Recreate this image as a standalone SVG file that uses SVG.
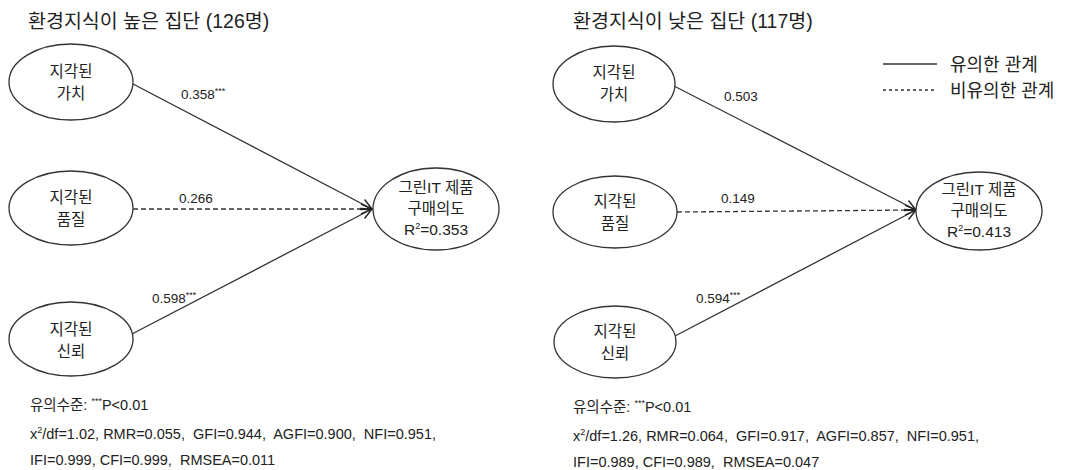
<svg xmlns="http://www.w3.org/2000/svg" width="1067" height="470" viewBox="0 0 1067 470">
<style>
.t{font-family:"Liberation Sans","Noto Sans CJK KR",sans-serif;fill:#222}
.title{font-size:19.5px}
.n{font-size:15.5px;text-anchor:middle}
.l{font-size:13.5px}
.f{font-size:14.5px;white-space:pre}
.g{font-size:18px}
.e{fill:#fff;stroke:#333;stroke-width:1.3}
.s{stroke:#333;stroke-width:1.3;fill:none}
.d{stroke:#333;stroke-width:1.3;fill:none;stroke-dasharray:5,3}
.sup{font-size:9px}
</style>
<defs>
<marker id="arr" markerUnits="userSpaceOnUse" markerWidth="14" markerHeight="14" refX="12" refY="6" orient="auto">
<path d="M1,1 L12,6 L1,11" fill="none" stroke="#222" stroke-width="1.4"/>
</marker>
</defs>
<rect width="1067" height="470" fill="#fff"/>
<text class="t title" x="28" y="28">환경지식이 높은 집단 (126명)</text>
<text class="t title" x="573" y="28">환경지식이 낮은 집단 (117명)</text>
<g id="connectors">
<line class="s" x1="133" y1="84" x2="372" y2="209" marker-end="url(#arr)"/>
<line class="d" x1="133" y1="209" x2="372" y2="209" marker-end="url(#arr)"/>
<line class="s" x1="130" y1="335" x2="372" y2="209" marker-end="url(#arr)"/>
<line class="s" x1="674" y1="86" x2="916" y2="210" marker-end="url(#arr)"/>
<line class="d" x1="677" y1="212" x2="916" y2="210" marker-end="url(#arr)"/>
<line class="s" x1="675" y1="336" x2="916" y2="210" marker-end="url(#arr)"/>
<line class="s" x1="883" y1="64" x2="937" y2="64"/>
<line class="d" x1="883" y1="90" x2="937" y2="90" style="stroke-dasharray:3,3"/>
</g>
<g id="L1"><ellipse class="e" cx="71" cy="82" rx="62" ry="38"/><text class="t n" x="71" y="77">지각된</text><text class="t n" x="71" y="99">가치</text></g>
<g id="L2"><ellipse class="e" cx="71" cy="208" rx="62" ry="37"/><text class="t n" x="71" y="203">지각된</text><text class="t n" x="71" y="225">품질</text></g>
<g id="L3"><ellipse class="e" cx="71" cy="339" rx="62" ry="37"/><text class="t n" x="71" y="335">지각된</text><text class="t n" x="71" y="357">신뢰</text></g>
<g id="LT"><ellipse class="e" cx="436" cy="209" rx="63" ry="41"/><text class="t n" x="436" y="193">그린IT 제품</text><text class="t n" x="436" y="214">구매의도</text><text class="t n" x="436" y="235">R<tspan class="sup" dy="-6">2</tspan><tspan dy="6">=0.353</tspan></text></g>
<g id="R1"><ellipse class="e" cx="614" cy="84" rx="61" ry="38"/><text class="t n" x="614" y="78">지각된</text><text class="t n" x="614" y="100">가치</text></g>
<g id="R2"><ellipse class="e" cx="615" cy="212" rx="62" ry="36"/><text class="t n" x="615" y="207">지각된</text><text class="t n" x="615" y="229">품질</text></g>
<g id="R3"><ellipse class="e" cx="615" cy="342" rx="61" ry="36"/><text class="t n" x="615" y="337">지각된</text><text class="t n" x="615" y="359">신뢰</text></g>
<g id="RT"><ellipse class="e" cx="979" cy="211" rx="63" ry="39"/><text class="t n" x="979" y="195">그린IT 제품</text><text class="t n" x="979" y="216">구매의도</text><text class="t n" x="979" y="237">R<tspan class="sup" dy="-6">2</tspan><tspan dy="6">=0.413</tspan></text></g>
<g id="labels">
<text class="t l" x="181" y="99">0.358<tspan class="sup" dy="-5">***</tspan></text>
<text class="t l" x="179" y="203">0.266</text>
<text class="t l" x="152" y="303">0.598<tspan class="sup" dy="-5">***</tspan></text>
<text class="t l" x="724" y="101">0.503</text>
<text class="t l" x="721" y="203">0.149</text>
<text class="t l" x="696" y="303">0.594<tspan class="sup" dy="-5">***</tspan></text>
</g>
<g id="legend">
<text class="t g" x="950" y="71">유의한 관계</text>
<text class="t g" x="950" y="97">비유의한 관계</text>
</g>
<g id="notes">
<text class="t f" x="30" y="410">유의수준: <tspan class="sup" dy="-6">***</tspan><tspan dy="6">P&lt;0.01</tspan></text>
<text class="t f" x="30" y="439">x<tspan class="sup" dy="-6">2</tspan><tspan dy="6">/df=1.02, RMR=0.055,  GFI=0.944,  AGFI=0.900,  NFI=0.951,</tspan></text>
<text class="t f" x="30" y="465">IFI=0.999, CFI=0.999,  RMSEA=0.011</text>
<text class="t f" x="573" y="412">유의수준: <tspan class="sup" dy="-6">***</tspan><tspan dy="6">P&lt;0.01</tspan></text>
<text class="t f" x="573" y="441">x<tspan class="sup" dy="-6">2</tspan><tspan dy="6">/df=1.26, RMR=0.064,  GFI=0.917,  AGFI=0.857,  NFI=0.951,</tspan></text>
<text class="t f" x="573" y="467">IFI=0.989, CFI=0.989,  RMSEA=0.047</text>
</g>
</svg>
